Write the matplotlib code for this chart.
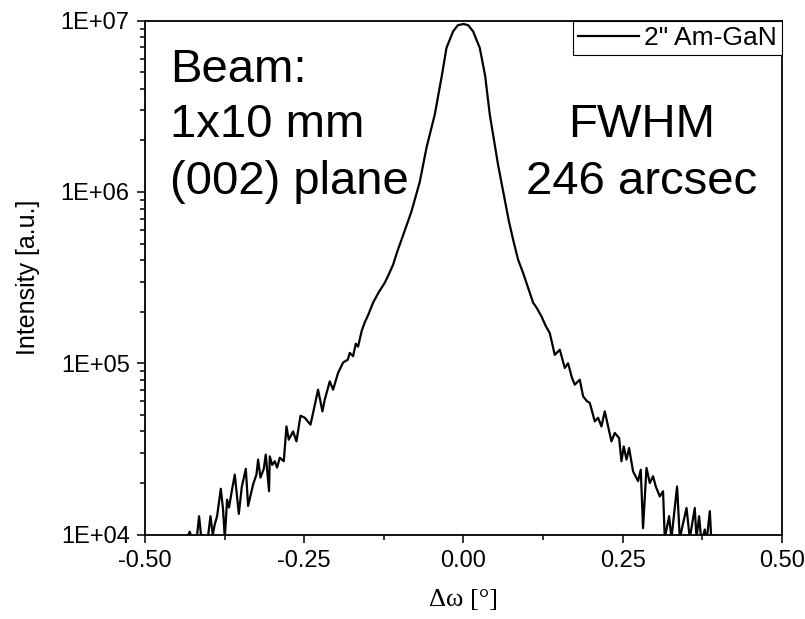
import math
import matplotlib
matplotlib.use("Agg")
import matplotlib.pyplot as plt
from matplotlib.ticker import FixedLocator, FuncFormatter, LogLocator, NullFormatter

plt.rcParams['font.family'] = ['Liberation Sans', 'DejaVu Sans']

# rocking curve (delta omega in degrees, intensity in a.u.)
omega = [-0.500, -0.4375, -0.4297, -0.4250, -0.4187, -0.4151, -0.4108, -0.4014, -0.3972, -0.3936,
         -0.3904, -0.3868, -0.3810, -0.3774, -0.3747, -0.3711, -0.3680, -0.3637, -0.3590, -0.3527,
         -0.3480, -0.3417, -0.3381, -0.3303, -0.3250, -0.3224, -0.3187, -0.3135, -0.3104, -0.3052,
         -0.3041, -0.3002, -0.2962, -0.2926, -0.2884, -0.2821, -0.2779, -0.2743, -0.2675, -0.2622,
         -0.2559, -0.2491, -0.2402, -0.2350, -0.2283, -0.2214, -0.2178, -0.2099, -0.2047, -0.1969,
         -0.1890, -0.1816, -0.1785, -0.1733, -0.1691, -0.1655, -0.1597, -0.1550, -0.1487, -0.1419,
         -0.1330, -0.1236, -0.1173, -0.1105, -0.1047, -0.0973, -0.0906, -0.0816, -0.0685, -0.0581,
         -0.0451, -0.0340, -0.0267, -0.0163, -0.0089, 0.0, 0.0075, 0.0151, 0.0256, 0.0340,
         0.0413, 0.0543, 0.0648, 0.0711, 0.0779, 0.0857, 0.0936, 0.1009, 0.1093, 0.1151,
         0.1224, 0.1292, 0.1355, 0.1433, 0.1512, 0.1590, 0.1642, 0.1700, 0.1747, 0.1826,
         0.1878, 0.1940, 0.1983, 0.2061, 0.2113, 0.2166, 0.2218, 0.2323, 0.2375, 0.2443,
         0.2480, 0.2516, 0.2559, 0.2600, 0.2662, 0.2741, 0.2783, 0.2819, 0.2873, 0.2925,
         0.2976, 0.3019, 0.3082, 0.3133, 0.3160, 0.3228, 0.3265, 0.3353, 0.3396, 0.3501,
         0.3553, 0.3631, 0.3658, 0.3699, 0.3736, 0.3788, 0.3815, 0.3867, 0.3893, 0.500]
intensity = [8e3, 9e3, 1.04e4, 9e3, 9.5e3, 1.28e4, 9e3, 9.5e3, 1.28e4, 1.0e4,
             1.15e4, 1.28e4, 1.85e4, 1.40e4, 9.5e3, 1.60e4, 1.44e4, 1.8e4, 2.24e4, 1.32e4,
             1.9e4, 2.42e4, 1.47e4, 1.96e4, 2.24e4, 2.74e4, 2.15e4, 2.42e4, 2.93e4, 1.79e4,
             2.86e4, 2.55e4, 2.68e4, 2.46e4, 2.81e4, 2.68e4, 4.28e4, 3.58e4, 4.0e4, 3.50e4,
             4.94e4, 4.81e4, 4.38e4, 5.36e4, 7.01e4, 5.24e4, 6.13e4, 7.84e4, 7.01e4, 8.78e4,
             1.01e5, 1.05e5, 1.15e5, 1.10e5, 1.30e5, 1.25e5, 1.55e5, 1.73e5, 1.95e5, 2.26e5,
             2.6e5, 2.95e5, 3.3e5, 3.76e5, 4.4e5, 5.27e5, 6.2e5, 7.7e5, 1.15e6, 1.81e6,
             2.83e6, 4.77e6, 6.93e6, 8.66e6, 9.4e6, 9.57e6, 9.4e6, 8.66e6, 6.93e6, 4.77e6,
             2.83e6, 1.44e6, 9.0e5, 6.8e5, 5.27e5, 4.03e5, 3.37e5, 2.8e5, 2.26e5, 2.1e5,
             1.88e5, 1.65e5, 1.50e5, 1.12e5, 1.20e5, 9.39e4, 1.0e5, 8.3e4, 7.5e4, 8.02e4,
             6.41e4, 6.0e4, 5.87e4, 4.58e4, 4.8e4, 4.28e4, 5.24e4, 3.5e4, 3.92e4, 3.66e4,
             2.68e4, 3.27e4, 2.74e4, 3.2e4, 2.34e4, 2.05e4, 2.39e4, 1.09e4, 2.45e4, 2.0e4,
             2.19e4, 1.91e4, 1.67e4, 1.79e4, 9.5e3, 1.28e4, 9.5e3, 1.91e4, 9.5e3, 1.43e4,
             9.5e3, 1.43e4, 9.5e3, 1.28e4, 9e3, 1.07e4, 9e3, 1.37e4, 9e3, 8e3]

x_ticks = [-0.50, -0.25, 0.00, 0.25, 0.50]
y_ticks = [1e4, 1e5, 1e6, 1e7]

fig = plt.figure(figsize=(8.05, 6.19), dpi=100)
ax = fig.add_axes([0.1801, 0.1364, 0.7913, 0.8302])

ax.plot(omega, intensity, color='black', lw=1.6, label='2" Am-GaN')

ax.set_yscale('log')
ax.set_xlim(-0.5, 0.5)
ax.set_ylim(1e4, 1e7)

ax.xaxis.set_major_locator(FixedLocator(x_ticks))
ax.xaxis.set_minor_locator(FixedLocator([-0.375, -0.125, 0.125, 0.375]))
ax.xaxis.set_major_formatter(FuncFormatter(lambda v, p: '%.2f' % v))
ax.yaxis.set_major_locator(FixedLocator(y_ticks))
ax.yaxis.set_minor_locator(LogLocator(base=10, subs=range(2, 10)))
ax.yaxis.set_minor_formatter(NullFormatter())
ax.yaxis.set_major_formatter(FuncFormatter(lambda v, p: '1E+%02d' % round(math.log10(v))))

ax.tick_params(which='both', direction='out', top=False, right=False, labelsize=17, width=1.1)
ax.tick_params(which='major', length=6, pad=5)
ax.tick_params(which='minor', length=3.5)
for s in ax.spines.values():
    s.set_linewidth(1.3)

ax.set_ylabel('Intensity [a.u.]', fontsize=18)
ax.yaxis.set_label_coords(-0.165, 0.5)
ax.set_xlabel('Δω [°]', fontsize=19, family=['Liberation Serif', 'DejaVu Serif'])
ax.xaxis.set_label_coords(0.5, -0.105)

# annotation, one line at a time (baselines)
for txt, yb in [('Beam:', 0.8813), ('1x10 mm', 0.7731), ('(002) plane', 0.6622)]:
    ax.text(0.039, yb, txt, transform=ax.transAxes, fontsize=34, va='baseline', ha='left')
ax.text(0.779, 0.7731, 'FWHM', transform=ax.transAxes, fontsize=34, va='baseline', ha='center')
ax.text(0.779, 0.6622, '246 arcsec', transform=ax.transAxes, fontsize=34, va='baseline', ha='center')

leg = ax.legend(loc='upper right', borderaxespad=0, fontsize=19, fancybox=False,
                framealpha=1, edgecolor='black', handlelength=2.3, handletextpad=0.2,
                borderpad=0.2)
leg.get_frame().set_linewidth(0.8)

plt.savefig('out.png', dpi=100)
